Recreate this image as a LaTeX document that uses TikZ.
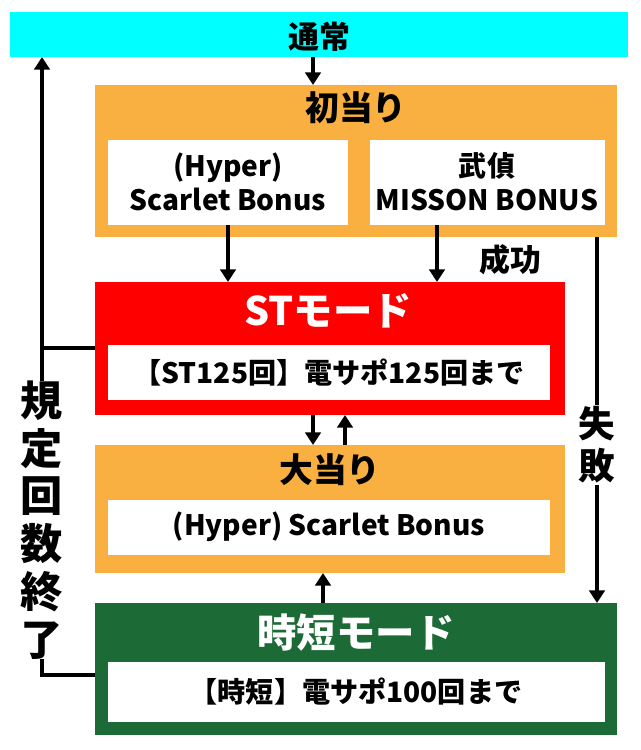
\documentclass[tikz,border=0pt]{standalone}
\usepackage{fontspec}
\setmainfont{Noto Sans CJK JP}[BoldFont={Noto Sans CJK JP Black}]
\usetikzlibrary{arrows.meta}
\definecolor{cyanbar}{HTML}{00FFFF}
\definecolor{orng}{HTML}{F9B040}
\definecolor{grn}{HTML}{1C6A36}
\tikzset{
 wbox/.style={fill=white,font=\bfseries\fontsize{20}{24}\selectfont,align=center},
 ttl/.style={font=\bfseries\fontsize{24}{28}\selectfont},
 bigttl/.style={font=\bfseries\fontsize{28}{32}\selectfont,white},
 arr/.style={line width=2.8pt,-{Triangle[length=9pt,width=11pt]}},
 ln/.style={line width=2.8pt},
 vtxt/.style={font=\bfseries\fontsize{30}{34}\selectfont,align=center}
}
\begin{document}
\begin{tikzpicture}[x=0.025cm,y=-0.025cm]
\useasboundingbox[fill=white] (0,0) rectangle (640,750);
\fill[cyanbar] (10,12) rectangle (628,57);
\node[font=\bfseries\fontsize{22}{26}\selectfont] (top) at (319,37) {通常};
\coordinate (topb) at (313,57);
\fill[orng] (95,85) rectangle (617,237);
\node[ttl] (sh) at (356,108) {初当り};
\fill[white] (108,140) rectangle (348,225);
\node[wbox] (hb) at (228,182) {(Hyper)\\Scarlet Bonus};
\fill[white] (370,140) rectangle (605,225);
\node[wbox] (bt) at (487,182) {武偵\\MISSON BONUS};
\fill[red] (95,282) rectangle (565,415);
\node[bigttl] (st) at (328,311) {STモード};
\fill[white] (108,345) rectangle (550,400);
\node[wbox] (stt) at (329,373) {【ST125回】電サポ125回まで};
\fill[orng] (95,445) rectangle (565,573);
\node[ttl] (oa) at (330,470) {大当り};
\fill[white] (108,500) rectangle (550,555);
\node[wbox] (oat) at (329,527) {(Hyper) Scarlet Bonus};
\fill[grn] (95,603) rectangle (617,735);
\node[bigttl] (jt) at (356,633) {時短モード};
\fill[white] (108,662) rectangle (605,722);
\node[wbox] (jtt) at (356,692) {【時短】電サポ100回まで};
% arrows
\coordinate (a0) at (313,85);
\draw[arr] (topb) -- (a0);
\coordinate (h1) at (228,225); \coordinate (h2) at (228,282);
\coordinate (b1) at (437,225); \coordinate (b2) at (437,282);
\draw[arr] (h1) -- (h2);
\draw[arr] (b1) -- (b2);
\node[font=\bfseries\fontsize{22}{26}\selectfont] (ok) at (510,260) {成功};
\coordinate (s1) at (313,415); \coordinate (s2) at (313,445);
\coordinate (u1) at (345,445); \coordinate (u2) at (345,415);
\draw[arr] (s1) -- (s2);
\draw[arr] (u1) -- (u2);
\coordinate (g1) at (323,603); \coordinate (g2) at (323,573);
\draw[arr] (g1) -- (g2);
\coordinate (f1) at (597,237); \coordinate (f2) at (597,603);
\draw[arr] (f1) -- (f2);
\node[vtxt,fill=white,inner sep=1pt,font=\bfseries\fontsize{26}{30}\selectfont] (fail) at (597,445) {失\\敗};
\coordinate (l1) at (95,348); \coordinate (l2) at (42,348);
\coordinate (l3) at (95,675); \coordinate (l4) at (42,675); \coordinate (l5) at (42,57);
\draw[ln] (l1) -- (l2);
\draw[ln] (l3) -- (l4) -- (l2);
\draw[arr] (l2) -- (l5);
\node[vtxt,fill=white,inner sep=0pt] (end) at (42,520) {規\\定\\回\\数\\終\\了};
\end{tikzpicture}
\end{document}
